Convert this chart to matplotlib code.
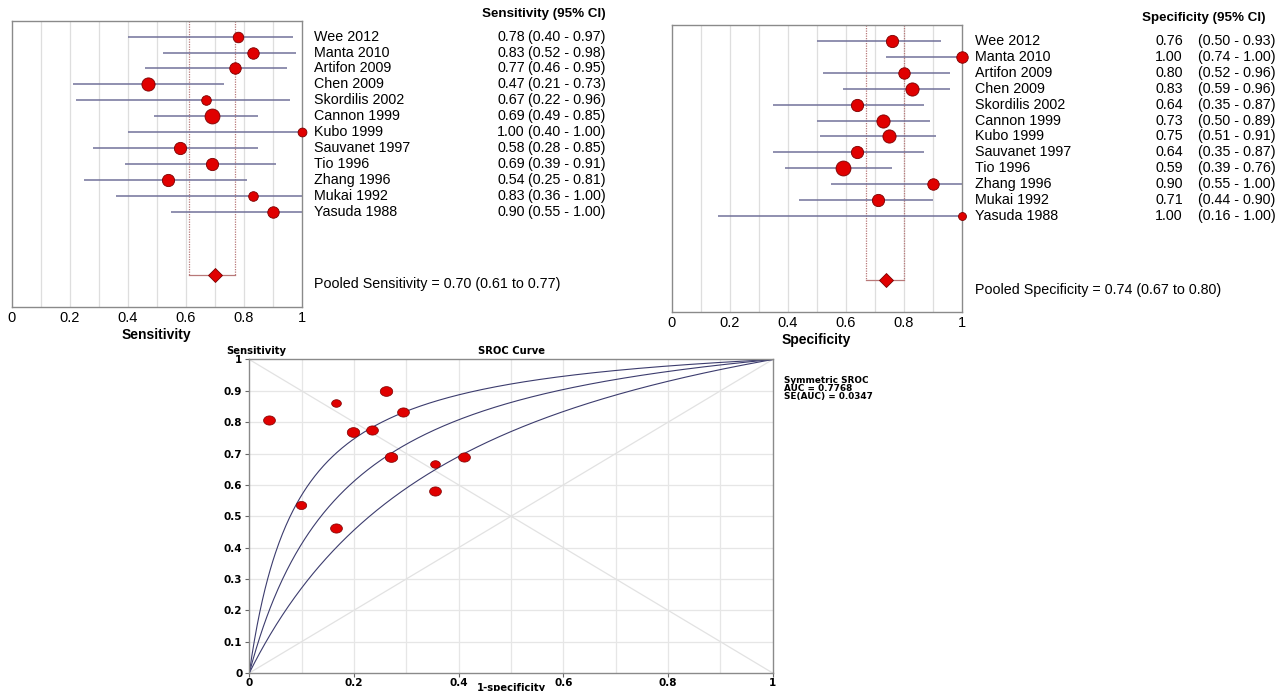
import numpy as np
import matplotlib
matplotlib.use('Agg')
import matplotlib.pyplot as plt
import matplotlib.transforms as mtrans
from matplotlib.path import Path

# ---------------- data ----------------
studies = ["Wee 2012", "Manta 2010", "Artifon 2009", "Chen 2009", "Skordilis 2002",
           "Cannon 1999", "Kubo 1999", "Sauvanet 1997", "Tio 1996", "Zhang 1996",
           "Mukai 1992", "Yasuda 1988"]
sens = [0.78, 0.83, 0.77, 0.47, 0.67, 0.69, 1.00, 0.58, 0.69, 0.54, 0.83, 0.90]
sens_lo = [0.40, 0.52, 0.46, 0.21, 0.22, 0.49, 0.40, 0.28, 0.39, 0.25, 0.36, 0.55]
sens_hi = [0.97, 0.98, 0.95, 0.73, 0.96, 0.85, 1.00, 0.85, 0.91, 0.81, 1.00, 1.00]
sens_weights = [8.0, 8.7, 8.7, 10.0, 7.3, 11.3, 6.7, 9.3, 9.3, 9.3, 7.3, 8.7]
spec = [0.76, 1.00, 0.80, 0.83, 0.64, 0.73, 0.75, 0.64, 0.59, 0.90, 0.71, 1.00]
spec_lo = [0.50, 0.74, 0.52, 0.59, 0.35, 0.50, 0.51, 0.35, 0.39, 0.55, 0.44, 0.16]
spec_hi = [0.93, 1.00, 0.96, 0.96, 0.87, 0.89, 0.91, 0.87, 0.76, 1.00, 0.90, 1.00]
spec_weights = [9.3, 8.7, 8.7, 10.0, 9.3, 10.0, 10.0, 9.3, 11.3, 8.7, 9.3, 6.0]
pooled_sens = [0.70, 0.61, 0.77]
pooled_spec = [0.74, 0.67, 0.80]

sroc_fpr = [0.038, 0.099, 0.165, 0.165, 0.199, 0.234, 0.262, 0.271, 0.294, 0.355, 0.355, 0.411]
sroc_tpr = [0.807, 0.537, 0.862, 0.464, 0.768, 0.776, 0.899, 0.689, 0.832, 0.666, 0.581, 0.690]
sroc_weights = [8.5, 7.5, 7.0, 8.5, 9.0, 8.5, 9.0, 9.0, 8.5, 7.0, 8.5, 8.5]
sroc_dor = [3.35, 6.3, 11.8]   # lower, symmetric SROC, upper
sroc_auc = "0.7768"
sroc_se = "0.0347"

forest_ticks = [0, 0.2, 0.4, 0.6, 0.8, 1]
forest_ticklabels = ["0", "0.2", "0.4", "0.6", "0.8", "1"]
sroc_yticks = [0, 0.1, 0.2, 0.3, 0.4, 0.5, 0.6, 0.7, 0.8, 0.9, 1]
sroc_yticklabels = ["0", "0.1", "0.2", "0.3", "0.4", "0.5", "0.6", "0.7", "0.8", "0.9", "1"]
sroc_xticklabels = ["0", "0.2", "0.4", "0.6", "0.8", "1"]

# ---------------- figure ----------------
W, H = 1283, 691
fig = plt.figure(figsize=(W / 100, H / 100), dpi=100)
plt.rcParams['font.family'] = ['Liberation Sans', 'DejaVu Sans']

def fx(px):
    return px / W

def fy(py):
    return 1 - py / H

def axes_px(left, top, right, bottom):
    return fig.add_axes([fx(left), fy(bottom), (right - left) / W, (bottom - top) / H])

CI_COLOR = '#71719a'
BOX_COLOR = '#b87878'
GRID_COLOR = '#dedede'
SPINE_COLOR = '#8a8a8a'
RED = '#e00000'
EDGE = '#7a0000'
POOLED_ROW = 15


def forest(ax, est, lo, hi, weights, pooled, xlabel):
    n = len(est)
    rows = np.arange(n)
    ax.set_xlim(0, 1)
    ax.set_ylim(17, -1)
    for g in np.arange(0.1, 1.0, 0.1):
        ax.axvline(g, color=GRID_COLOR, lw=0.9, zorder=0)
    # pooled dotted box
    p, plo, phi = pooled
    ax.plot([plo, plo], [-1, POOLED_ROW], color=BOX_COLOR, ls=(0, (1, 1)), lw=0.9, zorder=1)
    ax.plot([phi, phi], [-1, POOLED_ROW], color=BOX_COLOR, ls=(0, (1, 1)), lw=0.9, zorder=1)
    ax.plot([plo, phi], [POOLED_ROW, POOLED_ROW], color=BOX_COLOR, lw=0.9, zorder=1)
    ax.hlines(rows, lo, hi, color=CI_COLOR, lw=1.1, zorder=2)
    for r, e, w in zip(rows, est, weights):
        ax.plot(e, r, 'o', ms=w * 0.95, mfc=RED, mec=EDGE, mew=0.6, zorder=3, clip_on=False)
    ax.plot(p, POOLED_ROW, 'D', ms=7.5, mfc=RED, mec=EDGE, mew=0.6, zorder=4)
    ax.set_yticks([])
    ax.set_xticks(forest_ticks)
    ax.set_xticklabels(forest_ticklabels, fontsize=10.5)
    ax.tick_params(axis='x', length=0, pad=3)
    ax.set_xlabel(xlabel, fontsize=10, fontweight='bold', labelpad=2)
    for s in ax.spines.values():
        s.set_color(SPINE_COLOR)
        s.set_linewidth(1.0)


def forest_text(ax, est, lo, hi, x_name, x_val, x_ci, header, hx, hy, pooled_txt, px, py):
    tr = mtrans.blended_transform_factory(fig.transFigure, ax.transData)
    for i, (name, e, l, h) in enumerate(zip(studies, est, lo, hi)):
        fig.text(fx(x_name), i, name, transform=tr, fontsize=10.3, va='center', ha='left')
        fig.text(fx(x_val), i, f"{e:.2f}", transform=tr, fontsize=10.3, va='center', ha='left')
        fig.text(fx(x_ci), i, f"({l:.2f} - {h:.2f})", transform=tr, fontsize=10.3, va='center', ha='left')
    fig.text(fx(hx), fy(hy), header, fontsize=9.6, fontweight='bold', ha='center', va='center')
    fig.text(fx(px), fy(py), pooled_txt, fontsize=10.3, ha='left', va='center')


ax1 = axes_px(11.7, 20.7, 302, 307)
forest(ax1, sens, sens_lo, sens_hi, sens_weights, pooled_sens, "Sensitivity")
forest_text(ax1, sens, sens_lo, sens_hi, 314, 497, 528, "Sensitivity (95% CI)", 544, 14,
            "Pooled Sensitivity = %.2f (%.2f to %.2f)" % tuple(pooled_sens), 314, 284)

ax2 = axes_px(671.7, 25, 961.7, 311.7)
forest(ax2, spec, spec_lo, spec_hi, spec_weights, pooled_spec, "Specificity")
forest_text(ax2, spec, spec_lo, spec_hi, 975, 1155, 1198, "Specificity (95% CI)", 1204, 18,
            "Pooled Specificity = %.2f (%.2f to %.2f)" % tuple(pooled_spec), 975, 290)

# ---------------- SROC ----------------
ax3 = axes_px(249.3, 359.5, 772.7, 673)
ax3.set_xlim(0, 1)
ax3.set_ylim(0, 1)
for g in np.arange(0.1, 1.0, 0.1):
    ax3.axvline(g, color='#e6e6e6', lw=0.9, zorder=0)
    ax3.axhline(g, color='#e6e6e6', lw=0.9, zorder=0)
ax3.plot([0, 1], [1, 0], color='#e2e2e2', lw=0.9, zorder=1)
ax3.plot([0, 1], [0, 1], color='#e2e2e2', lw=0.9, zorder=1)
f = np.linspace(0, 1, 600)
for dor in sroc_dor:
    t = dor * f / (1 - f + dor * f)
    ax3.plot(f, t, color='#3c3c6e', lw=0.8, zorder=2)

ell_t = np.linspace(0, 2 * np.pi, 40)
ell_marker = Path(np.column_stack([np.cos(ell_t), 0.78 * np.sin(ell_t)]))
for x, y, w in zip(sroc_fpr, sroc_tpr, sroc_weights):
    ax3.plot(x, y, marker=ell_marker, ms=w * 1.0, mfc=RED, mec=EDGE, mew=0.5, ls='none', zorder=3)

ax3.set_xticks(forest_ticks)
ax3.set_xticklabels(sroc_xticklabels)
ax3.set_yticks(sroc_yticks)
ax3.set_yticklabels(sroc_yticklabels)
for lab in ax3.get_xticklabels() + ax3.get_yticklabels():
    lab.set_fontfamily('DejaVu Sans')
    lab.set_fontweight('bold')
    lab.set_fontsize(7.5)
ax3.tick_params(axis='y', length=3, width=0.8, color='#666666', pad=2)
ax3.tick_params(axis='x', length=3, width=0.8, color='#666666', pad=0.5)
for s in ax3.spines.values():
    s.set_color(SPINE_COLOR)
    s.set_linewidth(1.0)

sfont = dict(family='DejaVu Sans', fontweight='bold', fontsize=7.2)
fig.text(fx(226), fy(351), "Sensitivity", ha='left', va='center', **sfont)
fig.text(fx(511), fy(351), "SROC Curve", ha='center', va='center', **sfont)
fig.text(fx(511), fy(688), "1-specificity", ha='center', va='center', **sfont)
fig.text(fx(784), fy(388.5), "Symmetric SROC\nAUC = %s\nSE(AUC) = %s" % (sroc_auc, sroc_se),
         ha='left', va='center', family='DejaVu Sans', fontweight='bold', fontsize=6.4,
         linespacing=0.8)

fig.savefig('out.png', dpi=100)
